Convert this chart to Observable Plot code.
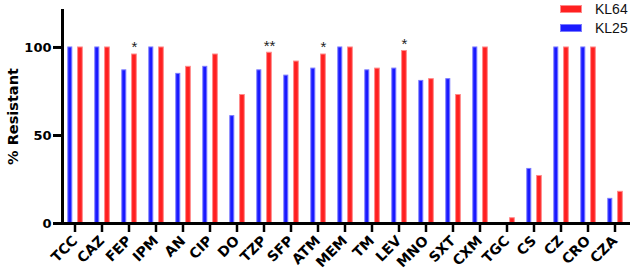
<!DOCTYPE html>
<html>
<head>
<meta charset="utf-8">
<script src="https://cdn.jsdelivr.net/npm/d3@7"></script>
<script src="https://cdn.jsdelivr.net/npm/@observablehq/plot@0.6"></script>
<style>
  html, body { margin: 0; padding: 0; background: #fff; }
  #wrap { position: relative; width: 630px; height: 273px; font-family: "Liberation Sans", Arial, sans-serif; }
  #legend { position: absolute; left: 560px; top: -1px; font-size: 14px; color: #111; }
  .item { display: flex; align-items: center; height: 19px; }
  .sw { width: 20px; height: 6px; margin-right: 13px; }
</style>
</head>
<body>
<div id="wrap">
  <div id="chart"></div>
  <div id="legend"></div>
</div>
<script>
const categories = ["TCC","CAZ","FEP","IPM","AN","CIP","DO","TZP","SFP","ATM","MEM","TM","LEV","MNO","SXT","CXM","TGC","CS","CZ","CRO","CZA"];
const kl25 = [100,100,87,100,85,89,61,87,84,88,100,87,88,81,82,100,0,31,100,100,14];
const kl64 = [100,100,96,100,89,96,73,97,92,96,100,88,98,82,73,100,3,27,100,100,18];
const marks = ["","","*","","","","","**","","*","","","*","","","","","","","",""];
const seriesNames = ["KL64","KL25"];
const seriesColors = {KL25: "#1a1aff", KL64: "#ff2020"};
const seriesStroke = {KL25: "#7a7aff", KL64: "#ff8a8a"};
const yTicks = [0, 50, 100];

const blue = categories.map((c, i) => ({cat: c, value: kl25[i]}));
const red = categories.map((c, i) => ({cat: c, value: kl64[i], mark: marks[i]}));

const font = "DejaVu Sans, sans-serif";

const chart = Plot.plot({
  width: 630,
  height: 273,
  marginLeft: 62,
  marginRight: 0,
  marginTop: 10,
  marginBottom: 50,
  style: {fontFamily: font, background: "white", color: "#000"},
  x: {domain: categories, range: [59, 630], padding: 0},
  y: {domain: [0, 121]},
  marks: [
    Plot.barY(blue, {x: "cat", y: "value", fill: seriesColors.KL25, stroke: seriesStroke.KL25, strokeWidth: 1, insetLeft: 6.8, insetRight: 16.2}),
    Plot.barY(red, {x: "cat", y: "value", fill: seriesColors.KL64, stroke: seriesStroke.KL64, strokeWidth: 1, insetLeft: 16.6, insetRight: 5.7}),
    Plot.text(red.filter(d => d.mark), {x: "cat", y: "value", text: "mark", dx: 5.5, dy: -7, fontSize: 15, fill: "#222", fontFamily: "Liberation Sans, Arial, sans-serif"}),
    Plot.frame({anchor: "left", strokeWidth: 3}),
    Plot.ruleY([0], {strokeWidth: 3}),
    Plot.axisY({ticks: yTicks, tickSize: 9, tickPadding: 2, strokeWidth: 3, fontSize: 13, fontWeight: "bold", label: null, fontFamily: font}),
    Plot.axisX({tickSize: 9, strokeWidth: 2.5, tickRotate: -45, tickPadding: 6, fontSize: 14, fontWeight: "bold", label: null, fontFamily: font})
  ]
});
// y-axis title as real text inside the svg
const svg = d3.select(chart);
const yMid = (chart.scale("y").range[0] + chart.scale("y").range[1]) / 2;
svg.append("text")
  .attr("transform", `translate(18,${yMid}) rotate(-90)`)
  .attr("text-anchor", "middle")
  .attr("font-family", font)
  .attr("font-weight", "bold")
  .attr("font-size", 14.5)
  .attr("fill", "#000")
  .text("% Resistant");
document.getElementById("chart").appendChild(chart);

const legend = document.getElementById("legend");
seriesNames.forEach(name => {
  const item = document.createElement("div");
  item.className = "item";
  const sw = document.createElement("span");
  sw.className = "sw";
  sw.style.background = seriesColors[name];
  sw.style.border = "1px solid " + seriesStroke[name];
  item.appendChild(sw);
  const t = document.createElement("span");
  t.textContent = name;
  item.appendChild(t);
  legend.appendChild(item);
});
</script>
</body>
</html>
